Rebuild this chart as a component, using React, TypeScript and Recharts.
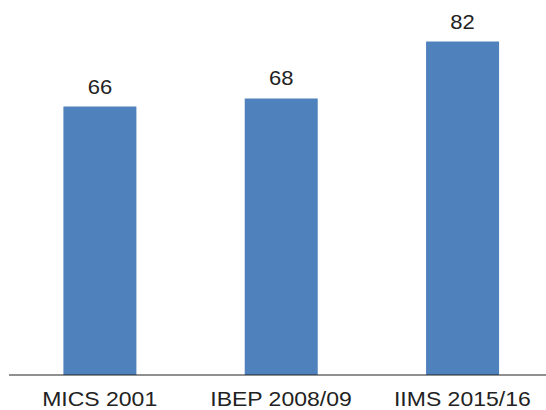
import { Bar, BarChart, LabelList, XAxis, YAxis } from "recharts";

const surveys = ["MICS 2001", "IBEP 2008/09", "IIMS 2015/16"];
const values = [66, 68, 82];

const data = surveys.map((name, i) => ({ name, value: values[i] }));

function SurveyTick(props: any) {
  const { x, y, payload } = props;
  return (
    <g transform={`translate(${x},${y}) scale(1.15,1)`}>
      <text x={0} y={0} dy={23} textAnchor="middle" fontSize={20} fill="#222222">
        {payload.value}
      </text>
    </g>
  );
}

function ValueLabel(props: any) {
  const { x, y, width, value } = props;
  const cx = x + width / 2;
  return (
    <g transform={`translate(${cx},${y - 13}) scale(1.1,1)`}>
      <text x={0} y={0} textAnchor="middle" fontSize={20} fill="#222222">
        {value}
      </text>
    </g>
  );
}

export default function App() {
  return (
    <div
      style={{
        position: "fixed",
        left: 0,
        top: 0,
        width: 546,
        height: 410,
        overflow: "hidden",
        background: "#ffffff",
        fontFamily: "'Liberation Sans', Arial, sans-serif",
      }}
    >
      <BarChart
        width={560}
        height={410}
        data={data}
        margin={{ top: 9, right: 7, bottom: 0, left: 9 }}
        barCategoryGap="30%"
      >
        <XAxis
          dataKey="name"
          height={35}
          tickLine={false}
          axisLine={{ stroke: "#222222", strokeWidth: 1.2 }}
          tick={<SurveyTick />}
          interval={0}
        />
        <YAxis hide domain={[0, 90]} />
        <Bar dataKey="value" fill="#4F81BD" isAnimationActive={false}>
          <LabelList dataKey="value" content={<ValueLabel />} />
        </Bar>
      </BarChart>
    </div>
  );
}
